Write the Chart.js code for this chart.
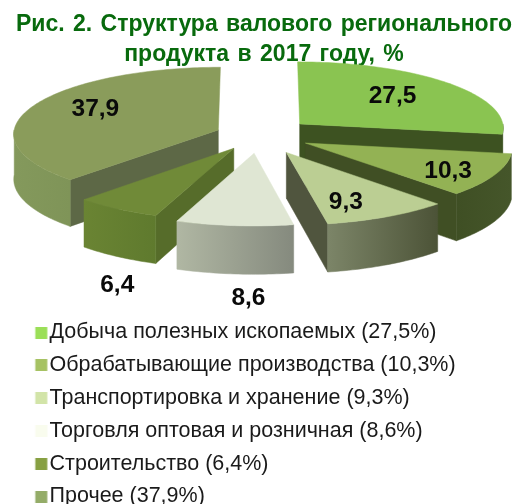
<!DOCTYPE html>
<html><head><meta charset="utf-8">
<script src="https://cdn.jsdelivr.net/npm/chart.js@4"></script>
<style>html,body{margin:0;padding:0;background:#fff;overflow:hidden;width:517px;height:504px}canvas{display:block}</style>
</head><body><canvas id="c" width="517" height="530"></canvas>
<script>
const titleLines = ['Рис. 2. Структура валового регионального', 'продукта в 2017 году, %'];
const categories = ['Добыча полезных ископаемых (27,5%)','Обрабатывающие производства (10,3%)','Транспортировка и хранение (9,3%)','Торговля оптовая и розничная (8,6%)','Строительство (6,4%)','Прочее (37,9%)'];
const shares = [27.5, 10.3, 9.3, 8.6, 6.4, 37.9];
const valueLabels = ['27,5','10,3','9,3','8,6','6,4','37,9'];
const legendColors = ['#9BDF58','#A6C263','#D2E4A8','#F9FCEE','#87A042','#94AC68'];
const topColors = ['#8AC451','#93B254','#BBCE93','#DFE6D3','#708A38','#8A9C5B'];
const outerWallColors = [['#3D5221','#3D5221'],['#3F4F24','#45562A'],['#7C8568','#4C5337'],['#B0B7A3','#858A7E'],['#6A8433','#5F7A2E'],['#84995C','#7F9458']];
const radialWallColors = ['#3D5221','#404F24','#50553E','#878C80','#566C2A','#5D6846'];
const explode = [54, 52, 59, 55, 47, 44];
const paintOrder = [5, 0, 1, 4, 2, 3];
const labelRadius = [0.62, 0.76, 0.6, 0.3, 1.0, 0.66];
const labelDrop = [-2, 4, 12, 124, 76, -5];
const TILT = 0.325, PERSP = 0.0547, DEPTH = 45;

const pie3d = {
  id: 'pie3d',
  afterLayout(chart){
    const t = chart.titleBlock; t.left = 11; t.right = 517;
    if (!t._spaced) { const d = t.draw; t.draw = function(){ this.ctx.wordSpacing = '2px'; d.call(this); this.ctx.wordSpacing = '0px'; }; t._spaced = true; }
    const l = chart.legend; l.left = 26.5; l.right = 517; l.top = 310.5; l.bottom = 700;
  },
  beforeDatasetsDraw(chart){
    const ctx = chart.ctx, arcs = chart.getDatasetMeta(0).data;
    ctx.save();
    const geo = arcs.map(a => {
      const rx = a.outerRadius, d = a.options.offset / rx, mid = (a.startAngle + a.endAngle) / 2;
      const ax = Math.cos(mid) * d, az = Math.sin(mid) * d;
      const pr = (X, Z, low) => { const w = 1 - PERSP * Z;
        return [a.x + rx * X / w, a.y + rx * TILT * Z / w + (low ? DEPTH / w : 0)]; };
      const rim = (ang, low, r = 1) => pr(ax + r * Math.cos(ang), az + r * Math.sin(ang), low);
      return {a, rim, apex: low => pr(ax, az, low)};
    });
    const poly = (pts, fill) => { ctx.beginPath(); pts.forEach((p, i) => i ? ctx.lineTo(p[0], p[1]) : ctx.moveTo(p[0], p[1])); ctx.closePath(); ctx.fillStyle = fill; ctx.fill(); ctx.strokeStyle = fill; ctx.lineWidth = 0.5; ctx.stroke(); };
    const arcPts = (g, from, to, low) => { const n = Math.max(2, Math.ceil((to - from) / 0.02)), out = [];
      for (let i = 0; i <= n; i++) out.push(g.rim(from + (to - from) * i / n, low)); return out; };
    paintOrder.forEach(i => {
      const g = geo[i], s = g.a.startAngle, e = g.a.endAngle;
      [[s, Math.cos(s) < -1e-6], [e, Math.cos(e) > 1e-6]].forEach(([ang, vis]) => {
        if (vis) poly([g.apex(false), g.rim(ang, false), g.rim(ang, true), g.apex(true)], radialWallColors[i]);
      });
      const from = Math.max(s, 0), to = Math.min(e, Math.PI);
      if (to > from) {
        const upper = arcPts(g, from, to, false), lower = arcPts(g, from, to, true).reverse();
        const xs = upper.map(p => p[0]), grad = ctx.createLinearGradient(Math.min(...xs), 0, Math.max(...xs), 0);
        grad.addColorStop(0, outerWallColors[i][0]); grad.addColorStop(1, outerWallColors[i][1]);
        poly(upper.concat(lower), grad);
      }
      poly([g.apex(false)].concat(arcPts(g, s, e, false)), topColors[i]);
    });
    ctx.font = 'bold 24.5px "Liberation Sans"'; ctx.fillStyle = '#0A0A0A'; ctx.textAlign = 'center'; ctx.textBaseline = 'middle';
    arcs.forEach((a, i) => {
      const rx = a.outerRadius, d = a.options.offset / rx, mid = (a.startAngle + a.endAngle) / 2;
      const r = d + labelRadius[i], X = Math.cos(mid) * r, Z = Math.sin(mid) * r, w = 1 - PERSP * Z;
      ctx.fillText(valueLabels[i], a.x + rx * X / w, a.y + rx * TILT * Z / w + labelDrop[i]);
    });
    ctx.restore();
    return false;
  }
};
const swatch = color => { const c = document.createElement('canvas'); c.width = 41; c.height = 12; const x = c.getContext('2d'); x.fillStyle = color; x.fillRect(17.5, 0, 12, 12); return c; };

new Chart(document.getElementById('c'), {
  type: 'pie',
  data: { labels: categories, datasets: [{ data: shares, backgroundColor: legendColors, offset: explode, borderWidth: 0 }] },
  options: {
    responsive: false, animation: false, radius: 205, rotation: 0,
    layout: { padding: { top: 0, left: 0, right: 0, bottom: 329.4 } },
    plugins: {
      tooltip: { enabled: false },
      title: { display: true, text: titleLines, color: '#086A0D', font: { family: '"Liberation Sans"', size: 23, weight: 'bold', lineHeight: 1.3 }, padding: { top: 10, bottom: 0 } },
      legend: { display: true, position: 'left', align: 'start', maxWidth: 1,
        labels: { color: '#1A1A1A', font: { family: '"Liberation Sans"', size: 21.5 }, padding: 11.3, usePointStyle: true, pointStyleWidth: 1,
          generateLabels(chart){ return chart.data.labels.map((t, i) => ({ text: t, index: i, fontColor: '#1A1A1A', fillStyle: legendColors[i], pointStyle: swatch(legendColors[i]), lineWidth: 0, strokeStyle: 'transparent' })); } } }
    }
  },
  plugins: [pie3d]
});
</script></body></html>
